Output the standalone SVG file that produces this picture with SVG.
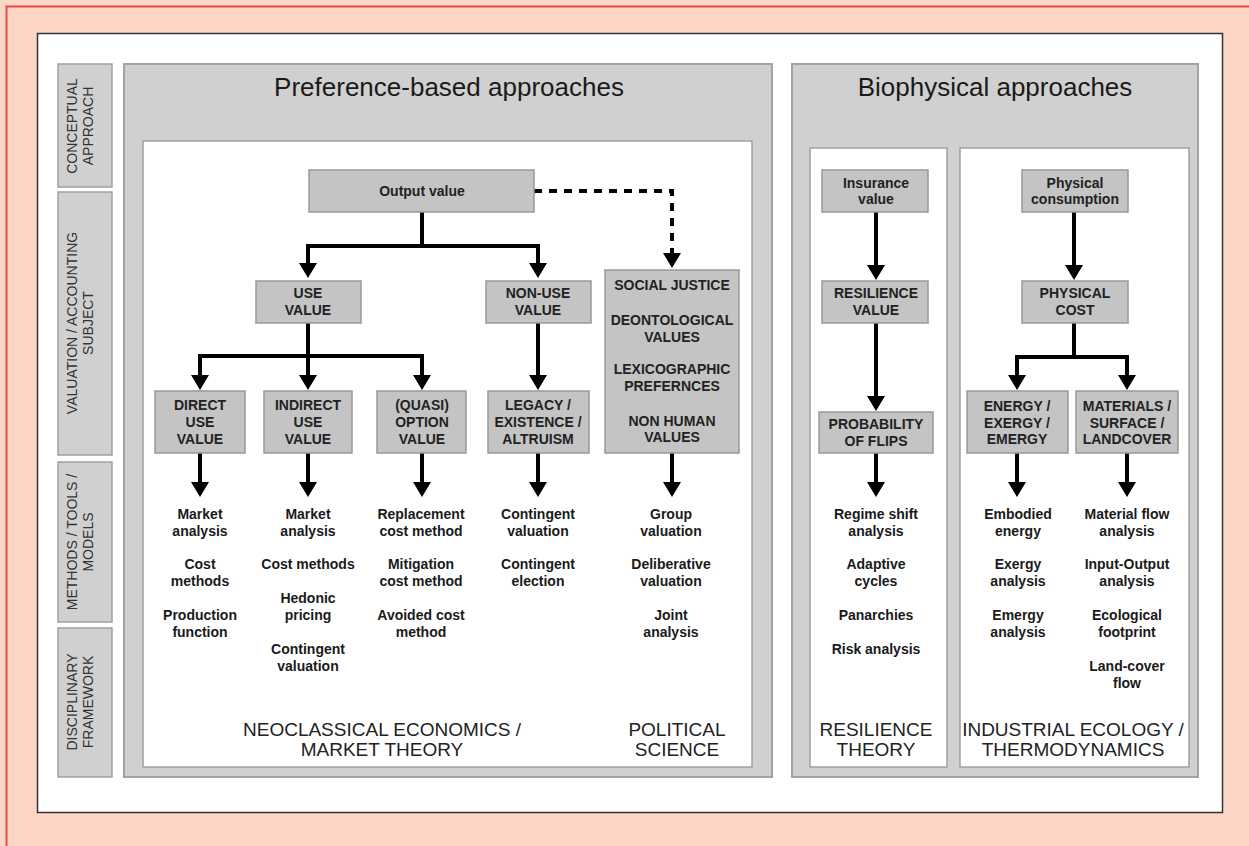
<svg xmlns="http://www.w3.org/2000/svg" width="1249" height="846" viewBox="0 0 1249 846">
<defs>
<style>
.side{fill:#d0d0d0;stroke:#a0a0a0;stroke-width:1.5}
.panel{fill:#d0d0d0;stroke:#a3a3a3;stroke-width:2}
.inner{fill:#ffffff;stroke:#a0a0a0;stroke-width:1.5}
.node{fill:#c4c4c4;stroke:#999999;stroke-width:1.5}
.nt{font-family:"Liberation Sans",Arial,sans-serif;font-size:14px;font-weight:bold;fill:#222;text-anchor:middle}
.lt{font-family:"Liberation Sans",Arial,sans-serif;font-size:14px;font-weight:bold;fill:#1a1a1a;text-anchor:middle}
.st{font-family:"Liberation Sans",Arial,sans-serif;font-size:14px;fill:#333;text-anchor:middle}
.bt{font-family:"Liberation Sans",Arial,sans-serif;font-size:19px;fill:#222;text-anchor:middle}
.ht{font-family:"Liberation Sans",Arial,sans-serif;font-size:26px;fill:#1a1a1a;text-anchor:middle}
.c{fill:none;stroke:#000;stroke-width:4;marker-end:url(#ah)}
.d{fill:none;stroke:#000;stroke-width:4;stroke-dasharray:8 7;marker-end:url(#ah)}
</style>
<marker id="ah" markerUnits="userSpaceOnUse" markerWidth="20" markerHeight="20" viewBox="0 -10 16 20" refX="1" refY="0" orient="auto">
<path d="M0,-9 L15,0 L0,9 z" fill="#000"/>
</marker>
</defs>
<rect x="0" y="0" width="1249" height="846" fill="#fdd5c4"/>
<rect x="6.5" y="6.5" width="1260" height="860" fill="none" stroke="#e84848" stroke-width="2"/>
<rect x="37.5" y="33.5" width="1185" height="779" fill="#ffffff" stroke="#333" stroke-width="1.5"/>

<g id="sidebar">
<rect class="side" x="58" y="64" width="54" height="123"/>
<rect class="side" x="58" y="192" width="54" height="263"/>
<rect class="side" x="58" y="462" width="54" height="160"/>
<rect class="side" x="58" y="628" width="54" height="149"/>
<text class="st" transform="translate(77,126) rotate(-90)">CONCEPTUAL</text>
<text class="st" transform="translate(93,126) rotate(-90)">APPROACH</text>
<text class="st" transform="translate(77,323) rotate(-90)">VALUATION / ACCOUNTING</text>
<text class="st" transform="translate(93,323) rotate(-90)">SUBJECT</text>
<text class="st" transform="translate(77,542) rotate(-90)">METHODS / TOOLS /</text>
<text class="st" transform="translate(93,542) rotate(-90)">MODELS</text>
<text class="st" transform="translate(77,702) rotate(-90)">DISCIPLINARY</text>
<text class="st" transform="translate(93,702) rotate(-90)">FRAMEWORK</text>
</g>

<g id="preference-panel">
<rect class="panel" x="124" y="64" width="648" height="713"/>
<rect class="inner" x="143" y="141" width="609" height="626"/>
<text class="ht" x="449" y="96">Preference-based approaches</text>
<text class="bt" x="382" y="736">NEOCLASSICAL ECONOMICS /</text>
<text class="bt" x="382" y="756">MARKET THEORY</text>
<text class="bt" x="677" y="736">POLITICAL</text>
<text class="bt" x="677" y="756">SCIENCE</text>
</g>

<g id="biophysical-panel">
<rect class="panel" x="792" y="64" width="406" height="713"/>
<rect class="inner" x="810" y="148" width="137" height="619"/>
<rect class="inner" x="960" y="148" width="229" height="619"/>
<text class="ht" x="995" y="96">Biophysical approaches</text>
<text class="bt" x="876" y="736">RESILIENCE</text>
<text class="bt" x="876" y="756">THEORY</text>
<text class="bt" x="1073" y="736">INDUSTRIAL ECOLOGY /</text>
<text class="bt" x="1073" y="756">THERMODYNAMICS</text>
</g>

<g id="connectors">
<path class="c" d="M422,212 V246 H308 V264"/>
<path class="c" d="M422,246 H538 V264"/>
<path class="d" d="M534,191 H672 V254"/>
<path class="c" d="M308,323 V356 H200 V376"/>
<path class="c" d="M308,356 V376"/>
<path class="c" d="M308,356 H422 V376"/>
<path class="c" d="M538,323 V376"/>
<path class="c" d="M200,453 V483"/>
<path class="c" d="M308,453 V483"/>
<path class="c" d="M422,453 V483"/>
<path class="c" d="M538,453 V483"/>
<path class="c" d="M672,453 V483"/>
<path class="c" d="M876,212 V266"/>
<path class="c" d="M876,323 V397"/>
<path class="c" d="M876,453 V483"/>
<path class="c" d="M1074,212 V266"/>
<path class="c" d="M1074,323 V357 H1017 V376"/>
<path class="c" d="M1074,357 H1127 V376"/>
<path class="c" d="M1017,453 V483"/>
<path class="c" d="M1127,453 V483"/>
</g>

<g id="output-value">
<rect class="node" x="309" y="170" width="225" height="42"/>
<text class="nt" x="422" y="196">Output value</text>
</g>
<g id="use-value">
<rect class="node" x="256" y="281" width="105" height="42"/>
<text class="nt" x="308" y="298">USE</text>
<text class="nt" x="308" y="315">VALUE</text>
</g>
<g id="non-use-value">
<rect class="node" x="486" y="281" width="105" height="42"/>
<text class="nt" x="538" y="298">NON-USE</text>
<text class="nt" x="538" y="315">VALUE</text>
</g>
<g id="social-justice">
<rect class="node" x="605" y="270" width="134" height="183"/>
<text class="nt" x="672" y="290">SOCIAL JUSTICE</text>
<text class="nt" x="672" y="325">DEONTOLOGICAL</text>
<text class="nt" x="672" y="342">VALUES</text>
<text class="nt" x="672" y="374">LEXICOGRAPHIC</text>
<text class="nt" x="672" y="391">PREFERNCES</text>
<text class="nt" x="672" y="426">NON HUMAN</text>
<text class="nt" x="672" y="442">VALUES</text>
</g>
<g id="direct-use-value">
<rect class="node" x="155" y="391" width="90" height="62"/>
<text class="nt" x="200" y="410">DIRECT</text>
<text class="nt" x="200" y="427">USE</text>
<text class="nt" x="200" y="444">VALUE</text>
</g>
<g id="indirect-use-value">
<rect class="node" x="264" y="391" width="88" height="62"/>
<text class="nt" x="308" y="410">INDIRECT</text>
<text class="nt" x="308" y="427">USE</text>
<text class="nt" x="308" y="444">VALUE</text>
</g>
<g id="option-value">
<rect class="node" x="377" y="391" width="89" height="62"/>
<text class="nt" x="422" y="410">(QUASI)</text>
<text class="nt" x="422" y="427">OPTION</text>
<text class="nt" x="422" y="444">VALUE</text>
</g>
<g id="legacy">
<rect class="node" x="488" y="391" width="101" height="62"/>
<text class="nt" x="538" y="410">LEGACY /</text>
<text class="nt" x="538" y="427">EXISTENCE /</text>
<text class="nt" x="538" y="444">ALTRUISM</text>
</g>
<g id="insurance-value">
<rect class="node" x="822" y="170" width="106" height="42"/>
<text class="nt" x="876" y="188">Insurance</text>
<text class="nt" x="876" y="204">value</text>
</g>
<g id="resilience-value">
<rect class="node" x="822" y="281" width="106" height="42"/>
<text class="nt" x="876" y="298">RESILIENCE</text>
<text class="nt" x="876" y="315">VALUE</text>
</g>
<g id="probability-of-flips">
<rect class="node" x="819" y="412" width="114" height="41"/>
<text class="nt" x="876" y="429">PROBABILITY</text>
<text class="nt" x="876" y="446">OF FLIPS</text>
</g>
<g id="physical-consumption">
<rect class="node" x="1022" y="170" width="106" height="42"/>
<text class="nt" x="1075" y="188">Physical</text>
<text class="nt" x="1075" y="204">consumption</text>
</g>
<g id="physical-cost">
<rect class="node" x="1022" y="281" width="106" height="42"/>
<text class="nt" x="1075" y="298">PHYSICAL</text>
<text class="nt" x="1075" y="315">COST</text>
</g>
<g id="energy">
<rect class="node" x="967" y="391" width="101" height="62"/>
<text class="nt" x="1017" y="411">ENERGY /</text>
<text class="nt" x="1017" y="428">EXERGY /</text>
<text class="nt" x="1017" y="444">EMERGY</text>
</g>
<g id="materials">
<rect class="node" x="1076" y="391" width="102" height="62"/>
<text class="nt" x="1127" y="411">MATERIALS /</text>
<text class="nt" x="1127" y="428">SURFACE /</text>
<text class="nt" x="1127" y="444">LANDCOVER</text>
</g>

<g id="methods">
<text class="lt" x="200" y="519">Market</text>
<text class="lt" x="200" y="536">analysis</text>
<text class="lt" x="200" y="569">Cost</text>
<text class="lt" x="200" y="586">methods</text>
<text class="lt" x="200" y="620">Production</text>
<text class="lt" x="200" y="637">function</text>

<text class="lt" x="308" y="519">Market</text>
<text class="lt" x="308" y="536">analysis</text>
<text class="lt" x="308" y="569">Cost methods</text>
<text class="lt" x="308" y="603">Hedonic</text>
<text class="lt" x="308" y="620">pricing</text>
<text class="lt" x="308" y="654">Contingent</text>
<text class="lt" x="308" y="671">valuation</text>

<text class="lt" x="421" y="519">Replacement</text>
<text class="lt" x="421" y="536">cost method</text>
<text class="lt" x="421" y="569">Mitigation</text>
<text class="lt" x="421" y="586">cost method</text>
<text class="lt" x="421" y="620">Avoided cost</text>
<text class="lt" x="421" y="637">method</text>

<text class="lt" x="538" y="519">Contingent</text>
<text class="lt" x="538" y="536">valuation</text>
<text class="lt" x="538" y="569">Contingent</text>
<text class="lt" x="538" y="586">election</text>

<text class="lt" x="671" y="519">Group</text>
<text class="lt" x="671" y="536">valuation</text>
<text class="lt" x="671" y="569">Deliberative</text>
<text class="lt" x="671" y="586">valuation</text>
<text class="lt" x="671" y="620">Joint</text>
<text class="lt" x="671" y="637">analysis</text>

<text class="lt" x="876" y="519">Regime shift</text>
<text class="lt" x="876" y="536">analysis</text>
<text class="lt" x="876" y="569">Adaptive</text>
<text class="lt" x="876" y="586">cycles</text>
<text class="lt" x="876" y="620">Panarchies</text>
<text class="lt" x="876" y="654">Risk analysis</text>

<text class="lt" x="1018" y="519">Embodied</text>
<text class="lt" x="1018" y="536">energy</text>
<text class="lt" x="1018" y="569">Exergy</text>
<text class="lt" x="1018" y="586">analysis</text>
<text class="lt" x="1018" y="620">Emergy</text>
<text class="lt" x="1018" y="637">analysis</text>

<text class="lt" x="1127" y="519">Material flow</text>
<text class="lt" x="1127" y="536">analysis</text>
<text class="lt" x="1127" y="569">Input-Output</text>
<text class="lt" x="1127" y="586">analysis</text>
<text class="lt" x="1127" y="620">Ecological</text>
<text class="lt" x="1127" y="637">footprint</text>
<text class="lt" x="1127" y="671">Land-cover</text>
<text class="lt" x="1127" y="688">flow</text>
</g>
</svg>
